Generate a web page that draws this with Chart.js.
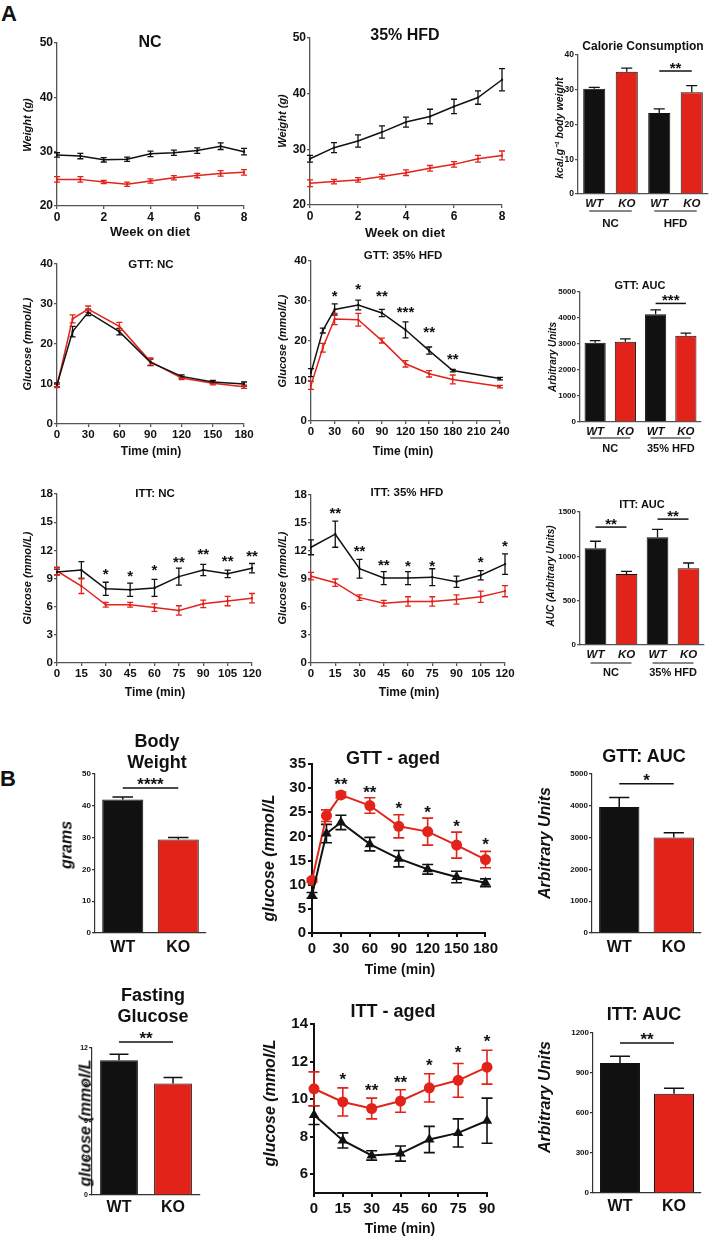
<!DOCTYPE html>
<html>
<head>
<meta charset="utf-8">
<title>Metabolic phenotype WT vs KO</title>
<script src="https://cdn.jsdelivr.net/npm/chart.js@4.4.1/dist/chart.umd.min.js"></script>
<style>
  html, body { margin: 0; padding: 0; background: #fff; }
  #fig { position: relative; width: 709px; height: 1239px; overflow: hidden; }
  .t { position: absolute; font-family: "Liberation Sans", Arial, sans-serif; font-weight: bold; color: #111;
       white-space: pre; text-align: center; z-index: 2; transform: translate(-50%, -50%); }
  .t.r { transform: translate(-50%, -50%) rotate(-90deg); }
  .t.i { font-style: italic; }
  canvas { position: absolute; z-index: 1; }
</style>
</head>
<body>
<div id="fig"></div>
<script>
// ---- data (A: weight on diet) ----
const weeks = [0, 1, 2, 3, 4, 5, 6, 7, 8]
const weekTicks = [0, 2, 4, 6, 8]
const weightTicks = [20, 30, 40, 50]
const ncWeightWT = [29.4, 29.2, 28.5, 28.6, 29.6, 29.8, 30.2, 31.0, 30.0]
const ncWeightWTErr = [0.4, 0.5, 0.4, 0.4, 0.5, 0.5, 0.5, 0.6, 0.6]
const ncWeightKO = [24.9, 24.9, 24.4, 24.0, 24.6, 25.2, 25.6, 26.0, 26.2]
const ncWeightKOErr = [0.5, 0.5, 0.3, 0.4, 0.4, 0.4, 0.4, 0.5, 0.5]
const hfdWeightWT = [28.3, 30.3, 31.5, 33.1, 34.9, 35.9, 37.7, 39.3, 42.5]
const hfdWeightWTErr = [0.6, 0.9, 1.1, 1.1, 0.9, 1.3, 1.3, 1.2, 2.0]
const hfdWeightKO = [23.9, 24.2, 24.5, 25.1, 25.8, 26.6, 27.3, 28.3, 28.9]
const hfdWeightKOErr = [0.6, 0.4, 0.4, 0.4, 0.5, 0.5, 0.5, 0.6, 0.8]

// calorie consumption
const dietCats = ["WT", "KO", "WT", "KO"]
const calorieTicks = [0, 10, 20, 30, 40]
const calorie = [30.3, 35.2, 23.3, 29.3]
const calorieErr = [0.4, 1.0, 1.2, 1.9]

// GTT
const gttNcTimes = [0, 15, 30, 60, 90, 120, 150, 180]
const gttNcTicks = [0, 30, 60, 90, 120, 150, 180]
const gttHfdTimes = [0, 15, 30, 60, 90, 120, 150, 180, 240]
const gttHfdTicks = [0, 30, 60, 90, 120, 150, 180, 210, 240]
const glucoseTicks40 = [0, 10, 20, 30, 40]
const gttNcWT = [9.8, 23.1, 27.9, 23.1, 15.4, 11.9, 10.5, 10.0]
const gttNcWTErr = [0.5, 1.3, 0.8, 0.8, 0.8, 0.4, 0.4, 0.5]
const gttNcKO = [9.5, 26.3, 28.7, 24.4, 15.6, 11.5, 10.2, 9.3]
const gttNcKOErr = [0.4, 1.0, 0.8, 1.0, 0.9, 0.4, 0.4, 0.4]
const gttHfdWT = [12.1, 22.6, 27.9, 29.0, 27.0, 22.8, 17.6, 12.6, 10.6]
const gttHfdWTErr = [1.0, 0.6, 1.4, 1.2, 0.9, 2.0, 0.9, 0.3, 0.3]
const gttHfdKO = [8.9, 18.3, 25.5, 25.3, 20.1, 14.3, 11.8, 10.4, 8.6]
const gttHfdKOErr = [1.0, 1.1, 1.4, 1.6, 0.6, 0.8, 0.8, 1.1, 0.3]
const gttHfdStars = [[30, 32.3, "*"], [60, 34, "*"], [90, 32.2, "**"], [120, 28.3, "***"], [150, 23.2, "**"], [180, 16.4, "**"]]
const aucTicks5000 = [0, 1000, 2000, 3000, 4000, 5000]
const gttAuc = [3050, 3090, 4140, 3320]
const gttAucErr = [80, 110, 170, 100]

// ITT
const ittTimes = [0, 15, 30, 45, 60, 75, 90, 105, 120]
const ittTicks = [0, 15, 30, 45, 60, 75, 90, 105, 120]
const glucoseTicks18 = [0, 3, 6, 9, 12, 15, 18]
const ittNcWT = [9.7, 9.9, 7.9, 7.8, 8.0, 9.2, 9.9, 9.5, 10.1]
const ittNcWTErr = [0.3, 0.9, 0.7, 0.7, 0.9, 0.9, 0.6, 0.4, 0.5]
const ittNcKO = [9.8, 8.2, 6.2, 6.2, 5.9, 5.6, 6.3, 6.6, 6.9]
const ittNcKOErr = [0.4, 0.8, 0.25, 0.25, 0.4, 0.5, 0.4, 0.5, 0.5]
const ittNcStars = [[30, 9.9, "*"], [45, 9.7, "*"], [60, 10.3, "*"], [75, 11.2, "**"], [90, 12.0, "**"], [105, 11.3, "**"], [120, 11.8, "**"]]
const ittHfdWT = [12.4, 13.8, 10.1, 9.1, 9.1, 9.2, 8.7, 9.4, 10.6]
const ittHfdWTErr = [0.8, 1.4, 1.0, 0.7, 0.7, 0.9, 0.6, 0.5, 1.1]
const ittHfdKO = [9.3, 8.6, 7.0, 6.4, 6.6, 6.6, 6.8, 7.1, 7.7]
const ittHfdKOErr = [0.4, 0.4, 0.3, 0.3, 0.5, 0.5, 0.5, 0.6, 0.6]
const ittHfdStars = [[15, 16.5, "**"], [30, 12.4, "**"], [45, 10.9, "**"], [60, 10.8, "*"], [75, 10.8, "*"], [105, 11.2, "*"], [120, 12.9, "*"]]
const aucTicks1500 = [0, 500, 1000, 1500]
const ittAuc = [1090, 800, 1215, 865]
const ittAucErr = [80, 30, 90, 60]

// ---- data (B: aged mice) ----
const agedCats = ["WT", "KO"]
const bodyTicks = [0, 10, 20, 30, 40, 50]
const bodyWeight = [42.0, 29.4]
const bodyWeightErr = [0.8, 0.6]
const agedGttTimes = [0, 15, 30, 60, 90, 120, 150, 180]
const agedGttTicks = [0, 30, 60, 90, 120, 150, 180]
const agedGlucoseTicks = [0, 5, 10, 15, 20, 25, 30, 35]
const agedGttWT = [7.8, 20.6, 22.9, 18.4, 15.4, 13.2, 11.6, 10.4]
const agedGttWTErr = [0.6, 1.9, 1.5, 1.4, 1.7, 1.0, 1.2, 0.8]
const agedGttKO = [10.9, 24.3, 28.6, 26.4, 22.1, 21.0, 18.2, 15.2]
const agedGttKOErr = [0.4, 1.2, 0.6, 1.6, 2.4, 2.8, 2.7, 1.7]
const agedGttStars = [[30, 31.7, "**"], [60, 30.0, "**"], [90, 26.6, "*"], [120, 25.9, "*"], [150, 22.9, "*"], [180, 19.2, "*"]]
const agedGttAuc = [3960, 3000]
const agedGttAucErr = [300, 150]
const fastingTicks = [0, 3, 6, 9, 12]
const fastingGlucose = [11.0, 9.1]
const fastingGlucoseErr = [0.5, 0.5]
const agedIttTimes = [0, 15, 30, 45, 60, 75, 90]
const agedIttTicks = [0, 15, 30, 45, 60, 75, 90]
const agedIttGlucoseTicks = [6, 8, 10, 12, 14]
const agedIttWT = [9.15, 7.8, 7.0, 7.1, 7.85, 8.2, 8.85]
const agedIttWTErr = [0.5, 0.4, 0.25, 0.4, 0.7, 0.75, 1.2]
const agedIttKO = [10.55, 9.85, 9.5, 9.9, 10.6, 11.0, 11.7]
const agedIttKOErr = [0.9, 0.75, 0.55, 0.6, 0.75, 0.9, 0.9]
const agedIttStars = [[15, 11.3, "*"], [30, 10.7, "**"], [45, 11.1, "**"], [60, 12.0, "*"], [75, 12.7, "*"], [90, 13.3, "*"]]
const ittAucTicks1200 = [0, 300, 600, 900, 1200]
const agedIttAuc = [975, 745]
const agedIttAucErr = [50, 40]

// ---- styling ----
const FONT = '"Liberation Sans", Arial, Helvetica, sans-serif'
const RED = "#e2231a"
const BLK = "#111111"
const AX_A = { color: "#555", width: 1.3 }
const AX_B = { color: "#111", width: 2 }
const AX_BAR = { color: "#333", width: 1.2 }

Chart.defaults.font.family = FONT
Chart.defaults.color = "#111"

// error bars drawn behind the marks
const errorBars = {
  id: "errorBars",
  beforeDatasetsDraw(chart) {
    const ctx = chart.ctx
    chart.data.datasets.forEach((ds, di) => {
      if (!ds.err) return
      const meta = chart.getDatasetMeta(di)
      const ys = chart.scales[meta.yAxisID]
      const isBar = meta.type === "bar"
      ctx.save()
      ctx.strokeStyle = ds.errColor || ds.borderColor
      ctx.lineWidth = ds.errWidth || 1.3
      meta.data.forEach((el, i) => {
        const raw = ds.data[i]
        const v = typeof raw === "number" ? raw : raw.y
        const e = ds.err[i]
        const top = ys.getPixelForValue(v + e)
        const bot = isBar ? el.y : ys.getPixelForValue(v - e)
        const half = (isBar ? el.width * ds.capFrac : ds.cap) / 2
        ctx.beginPath()
        ctx.moveTo(el.x, top); ctx.lineTo(el.x, bot)
        ctx.moveTo(el.x - half, top); ctx.lineTo(el.x + half, top)
        if (!isBar) { ctx.moveTo(el.x - half, bot); ctx.lineTo(el.x + half, bot) }
        ctx.stroke()
      })
      ctx.restore()
    })
  }
}

// significance stars and brackets
const sigMarks = {
  id: "sigMarks",
  afterDatasetsDraw(chart, args, o) {
    if (!o || !o.size) return
    const { ctx, scales: { x, y } } = chart
    ctx.save()
    ctx.fillStyle = "#111"
    ctx.strokeStyle = "#111"
    ctx.font = `bold ${o.size}px ${FONT}`
    ctx.textAlign = "center"
    ctx.textBaseline = "alphabetic"
    const lift = o.size * 0.58
    ;(o.stars || []).forEach(([sx, sy, t]) => {
      ctx.fillText(t, x.getPixelForValue(sx), y.getPixelForValue(sy) + lift)
    })
    ctx.lineWidth = o.lw || 1.5
    ;(o.brackets || []).forEach(([a, b, by, t]) => {
      const x1 = x.getPixelForValue(a), x2 = x.getPixelForValue(b), py = y.getPixelForValue(by)
      ctx.beginPath(); ctx.moveTo(x1, py); ctx.lineTo(x2, py); ctx.stroke()
      ctx.fillText(t, (x1 + x2) / 2, py - o.dy + lift)
    })
    ctx.restore()
  }
}

// group labels under paired bars (NC / HFD)
const groupLabels = {
  id: "groupLabels",
  afterDraw(chart, args, o) {
    if (!o || !o.items) return
    const { ctx, chartArea, scales: { x } } = chart
    ctx.save()
    ctx.strokeStyle = "#111"
    ctx.fillStyle = "#111"
    ctx.lineWidth = 1.2
    ctx.font = `bold ${o.size}px ${FONT}`
    ctx.textAlign = "center"
    ctx.textBaseline = "middle"
    o.items.forEach(([a, b, t]) => {
      const x1 = x.getPixelForValue(a) - o.ext, x2 = x.getPixelForValue(b) + o.ext
      const ly = chartArea.bottom + o.lineDy
      ctx.beginPath(); ctx.moveTo(x1, ly); ctx.lineTo(x2, ly); ctx.stroke()
      ctx.fillText(t, (x1 + x2) / 2, chartArea.bottom + o.textDy)
    })
    ctx.restore()
  }
}

Chart.register(errorBars, sigMarks, groupLabels)

const fig = document.getElementById("fig")

// rect = plot area [x0, y0, x1, y1] in page px, pad = [left, top, right, bottom]
function mkCanvas(rect, pad) {
  const w = rect[2] - rect[0] + pad[0] + pad[2]
  const h = rect[3] - rect[1] + pad[1] + pad[3]
  const c = document.createElement("canvas")
  c.width = w
  c.height = h
  c.style.cssText = `left:${rect[0] - pad[0]}px;top:${rect[1] - pad[1]}px;width:${w}px;height:${h}px`
  fig.appendChild(c)
  return c
}

function scale(o, fitKey, fitVal) {
  const s = {
    type: o.type || "linear",
    ticks: { autoSkip: false, maxRotation: 0, minRotation: 0, padding: o.pad ?? 1, color: "#111",
             font: { size: o.size, weight: "bold", style: o.style || "normal" } },
    grid: { display: !o.noTicks, drawOnChartArea: false, drawTicks: !o.noTicks, tickLength: o.noTicks ? 0 : (o.tl ?? 3),
            color: o.ax.color, lineWidth: o.ax.width },
    border: { display: true, color: o.ax.color, width: o.ax.width },
    afterFit: (sc) => { sc[fitKey] = fitVal },
  }
  if (o.ticks) {
    s.min = o.min ?? o.ticks[0]
    s.max = o.max ?? o.ticks[o.ticks.length - 1]
    s.afterBuildTicks = (sc) => { sc.ticks = o.ticks.map((v) => ({ value: v })) }
    s.ticks.callback = (v) => String(v)  // plain numbers, no thousands separator
  }
  return s
}

function baseOptions(pad, o, scales) {
  return {
    responsive: false, animation: false, devicePixelRatio: 1, events: [],
    layout: { padding: { left: 0, top: pad[1], right: pad[2], bottom: 0 } },
    plugins: { legend: { display: false }, tooltip: { enabled: false },
               sigMarks: o.sig || {}, groupLabels: o.groups || {} },
    scales,
  }
}

function lineChart(rect, pad, o) {
  return new Chart(mkCanvas(rect, pad), {
    type: "line",
    data: {
      datasets: o.series.map((s) => ({
        data: s.ys.map((v, i) => ({ x: o.xs[i], y: v })),
        err: s.err, borderColor: s.color, backgroundColor: s.color, borderWidth: s.lw,
        pointRadius: s.r, pointStyle: s.shape, pointBorderWidth: 0, tension: 0, clip: false,
        errWidth: s.ew, cap: s.cap,
      })),
    },
    options: baseOptions(pad, o, { x: scale(o.x, "height", pad[3]), y: scale(o.y, "width", pad[0]) }),
  })
}

function barChart(rect, pad, o) {
  return new Chart(mkCanvas(rect, pad), {
    type: "bar",
    data: {
      labels: o.labels,
      datasets: [{
        data: o.values, err: o.err, backgroundColor: o.colors, borderColor: "#111", borderWidth: 1,
        barPercentage: o.bp, categoryPercentage: 1, errColor: "#111", errWidth: o.ew || 1.3, capFrac: 0.5,
      }],
    },
    options: baseOptions(pad, o, { x: scale(o.x, "height", pad[3]), y: scale(o.y, "width", pad[0]) }),
  })
}

const serA = (ys, err, color) => ({ ys, err, color, lw: 1.5, r: 1.5, shape: "rect", ew: 1.3, cap: 6 })
const serB = (ys, err, color, shape) => ({ ys, err, color, lw: 2, r: shape === "circle" ? 5.5 : 6, shape, ew: 1.6, cap: 11 })
const pairColors = [BLK, RED, BLK, RED]

// ---- A: row 1 ----
lineChart([57, 43, 244, 206], [45, 10, 12, 24], {
  xs: weeks,
  x: { ticks: weekTicks, size: 12, ax: AX_A }, y: { ticks: weightTicks, size: 12, ax: AX_A },
  series: [serA(ncWeightWT, ncWeightWTErr, BLK), serA(ncWeightKO, ncWeightKOErr, RED)],
})
lineChart([310, 38, 502, 205], [45, 10, 12, 24], {
  xs: weeks,
  x: { ticks: weekTicks, size: 12, ax: AX_A }, y: { ticks: weightTicks, size: 12, ax: AX_A },
  series: [serA(hfdWeightWT, hfdWeightWTErr, BLK), serA(hfdWeightKO, hfdWeightKOErr, RED)],
})
barChart([578, 55, 708, 194], [40, 14, 1, 36], {
  labels: dietCats, values: calorie, err: calorieErr, colors: pairColors, bp: 0.68,
  x: { type: "category", noTicks: true, size: 11.5, style: "italic", pad: 3, ax: AX_A },
  y: { ticks: calorieTicks, size: 8.5, ax: AX_A },
  sig: { size: 15, dy: 7, brackets: [[2, 3, 35.4, "**"]] },
  groups: { items: [[0, 1, "NC"], [2, 3, "HFD"]], lineDy: 17, textDy: 30, size: 11.5, ext: 5 },
})

// ---- A: row 2 ----
lineChart([57, 264, 244, 424], [45, 10, 12, 24], {
  xs: gttNcTimes,
  x: { ticks: gttNcTicks, size: 11.5, ax: AX_A }, y: { ticks: glucoseTicks40, size: 11.5, ax: AX_A },
  series: [serA(gttNcWT, gttNcWTErr, BLK), serA(gttNcKO, gttNcKOErr, RED)],
})
lineChart([311, 261, 500, 421], [45, 10, 12, 24], {
  xs: gttHfdTimes,
  x: { ticks: gttHfdTicks, size: 11.5, ax: AX_A }, y: { ticks: glucoseTicks40, size: 11.5, ax: AX_A },
  series: [serA(gttHfdWT, gttHfdWTErr, BLK), serA(gttHfdKO, gttHfdKOErr, RED)],
  sig: { size: 15, stars: gttHfdStars },
})
barChart([580, 292, 701, 422], [40, 12, 4, 34], {
  labels: dietCats, values: gttAuc, err: gttAucErr, colors: pairColors, bp: 0.7,
  x: { type: "category", noTicks: true, size: 11.5, style: "italic", pad: 3, ax: AX_A },
  y: { ticks: aucTicks5000, size: 8, ax: AX_A },
  sig: { size: 15, dy: 7, brackets: [[2, 3, 4560, "***"]] },
  groups: { items: [[0, 1, "NC"], [2, 3, "35% HFD"]], lineDy: 16, textDy: 27, size: 11, ext: 5 },
})

// ---- A: row 3 ----
lineChart([57, 494, 252, 663], [45, 10, 12, 24], {
  xs: ittTimes,
  x: { ticks: ittTicks, size: 11.5, ax: AX_A }, y: { ticks: glucoseTicks18, size: 11.5, ax: AX_A },
  series: [serA(ittNcWT, ittNcWTErr, BLK), serA(ittNcKO, ittNcKOErr, RED)],
  sig: { size: 15, stars: ittNcStars },
})
lineChart([311, 495, 505, 663], [45, 10, 12, 24], {
  xs: ittTimes,
  x: { ticks: ittTicks, size: 11.5, ax: AX_A }, y: { ticks: glucoseTicks18, size: 11.5, ax: AX_A },
  series: [serA(ittHfdWT, ittHfdWTErr, BLK), serA(ittHfdKO, ittHfdKOErr, RED)],
  sig: { size: 15, stars: ittHfdStars },
})
barChart([580, 512, 704, 645], [40, 14, 4, 34], {
  labels: dietCats, values: ittAuc, err: ittAucErr, colors: pairColors, bp: 0.7,
  x: { type: "category", noTicks: true, size: 11.5, style: "italic", pad: 3, ax: AX_A },
  y: { ticks: aucTicks1500, size: 8, ax: AX_A },
  sig: { size: 15, dy: 7, brackets: [[0, 1, 1330, "**"], [2, 3, 1420, "**"]] },
  groups: { items: [[0, 1, "NC"], [2, 3, "35% HFD"]], lineDy: 18, textDy: 28, size: 11, ext: 5 },
})

// ---- B: row 1 ----
barChart([95, 774, 206, 933], [40, 14, 6, 26], {
  labels: agedCats, values: bodyWeight, err: bodyWeightErr, colors: [BLK, RED], bp: 0.74, ew: 1.5,
  x: { type: "category", noTicks: true, size: 16, pad: 5, ax: AX_BAR },
  y: { ticks: bodyTicks, size: 8, ax: AX_BAR },
  sig: { size: 17, dy: 8, brackets: [[0, 1, 45.6, "****"]] },
})
lineChart([312, 763, 487, 933], [50, 10, 14, 40], {
  xs: agedGttTimes,
  x: { ticks: agedGttTicks, size: 15, tl: 4, pad: 3, ax: AX_B }, y: { ticks: agedGlucoseTicks, size: 15, tl: 4, pad: 2, ax: AX_B },
  series: [serB(agedGttWT, agedGttWTErr, BLK, "triangle"), serB(agedGttKO, agedGttKOErr, RED, "circle")],
  sig: { size: 17, stars: agedGttStars },
})
barChart([592, 774, 701, 933], [40, 14, 4, 26], {
  labels: agedCats, values: agedGttAuc, err: agedGttAucErr, colors: [BLK, RED], bp: 0.74, ew: 1.5,
  x: { type: "category", noTicks: true, size: 16, pad: 5, ax: AX_BAR },
  y: { ticks: aucTicks5000, size: 8, ax: AX_BAR },
  sig: { size: 17, dy: 8, brackets: [[0, 1, 4690, "*"]] },
})

// ---- B: row 2 ----
barChart([92, 1048, 200, 1195], [40, 22, 6, 26], {
  labels: agedCats, values: fastingGlucose, err: fastingGlucoseErr, colors: [BLK, RED], bp: 0.7, ew: 1.5,
  x: { type: "category", noTicks: true, size: 16, pad: 3, ax: AX_BAR },
  y: { ticks: fastingTicks, size: 7, ax: AX_BAR },
  sig: { size: 17, dy: 8, brackets: [[0, 1, 12.5, "**"]] },
})
lineChart([314, 1023, 487, 1193], [50, 10, 14, 40], {
  xs: agedIttTimes,
  x: { ticks: agedIttTicks, size: 15, tl: 4, pad: 3, ax: AX_B },
  y: { ticks: agedIttGlucoseTicks, min: 5, max: 14, size: 15, tl: 4, pad: 2, ax: AX_B },
  series: [serB(agedIttWT, agedIttWTErr, BLK, "triangle"), serB(agedIttKO, agedIttKOErr, RED, "circle")],
  sig: { size: 17, stars: agedIttStars },
})
barChart([593, 1033, 701, 1193], [40, 14, 4, 26], {
  labels: agedCats, values: agedIttAuc, err: agedIttAucErr, colors: [BLK, RED], bp: 0.74, ew: 1.5,
  x: { type: "category", noTicks: true, size: 16, pad: 4, ax: AX_BAR },
  y: { ticks: ittAucTicks1200, size: 8, ax: AX_BAR },
  sig: { size: 17, dy: 8, brackets: [[0, 1, 1125, "**"]] },
})

// ---- titles and axis titles ----
// [text, x, y, size, italic, rotated]
const texts = [
  ["A", 9, 14, 22],
  ["NC", 150, 41, 16],
  ["35% HFD", 405, 34, 16],
  ["Calorie Consumption", 643, 46, 12],
  ["Weight (g)", 27, 125, 11, true, true],
  ["Weight (g)", 282, 121, 11, true, true],
  ["kcal.g\u207B\u00B9 body weight", 559, 128, 10.5, true, true],
  ["Week on diet", 150, 231, 13],
  ["Week on diet", 405, 232, 13],
  ["GTT: NC", 151, 264, 11.5],
  ["GTT: 35% HFD", 403, 255, 11.5],
  ["GTT: AUC", 640, 285, 11],
  ["Glucose (mmol/L)", 27, 344, 11, true, true],
  ["Glucose (mmol/L)", 282, 341, 11, true, true],
  ["Arbitrary Units", 553, 357, 10, true, true],
  ["Time (min)", 151, 451, 12],
  ["Time (min)", 403, 451, 12],
  ["ITT: NC", 155, 493, 11.5],
  ["ITT: 35% HFD", 407, 492, 11.5],
  ["ITT: AUC", 642, 504, 11],
  ["Glucose (mmol/L)", 27, 578, 11, true, true],
  ["Glucose (mmol/L)", 282, 578, 11, true, true],
  ["AUC (Arbitrary Units)", 551, 576, 10, true, true],
  ["Time (min)", 155, 692, 12],
  ["Time (min)", 409, 692, 12],
  ["B", 8, 779, 22],
  ["Body\nWeight", 157, 752, 18],
  ["grams", 66, 845, 16, true, true],
  ["GTT - aged", 393, 758, 18],
  ["glucose (mmol/L", 268, 858, 16, true, true],
  ["Time (min)", 400, 969, 14],
  ["GTT: AUC", 644, 756, 18],
  ["Arbitrary Units", 544, 843, 16, true, true],
  ["Fasting\nGlucose", 153, 1006, 18],
  ["glucose (mmol/L", 85, 1123, 16, true, true],
  ["ITT - aged", 393, 1011, 18],
  ["glucose (mmol/L", 269, 1103, 16, true, true],
  ["Time (min)", 400, 1228, 14],
  ["ITT: AUC", 644, 1014, 18],
  ["Arbitrary Units", 544, 1097, 16, true, true],
]

texts.forEach(([txt, x, y, size, italic, rot]) => {
  const d = document.createElement("div")
  d.className = "t" + (italic ? " i" : "") + (rot ? " r" : "")
  d.textContent = txt
  d.style.left = x + "px"
  d.style.top = y + "px"
  d.style.fontSize = size + "px"
  d.style.lineHeight = Math.round(size * 1.17) + "px"
  fig.appendChild(d)
})
</script>
</body>
</html>
